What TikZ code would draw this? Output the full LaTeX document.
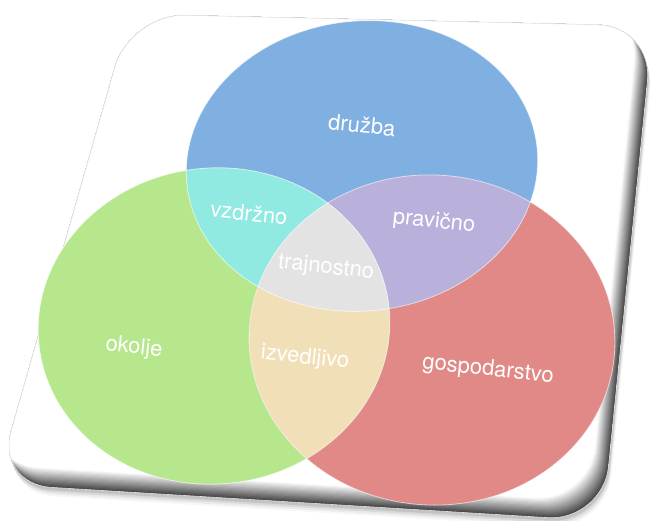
\documentclass[tikz,border=0pt]{standalone}
\usepackage{fontspec}
\setmainfont{TeX Gyre Heros}

\definecolor{druzbablue}{RGB}{128,176,225}
\definecolor{okoljegreen}{RGB}{182,231,140}
\definecolor{gospred}{RGB}{224,137,134}
\definecolor{vzdrcyan}{RGB}{145,234,226}
\definecolor{pravpurple}{RGB}{185,176,220}
\definecolor{izvbeige}{RGB}{241,224,183}
\definecolor{trajgrey}{RGB}{227,227,227}

% the three sets
\newcommand{\druzbaset}{(362,166) ellipse [x radius=176, y radius=145, rotate=6]}
\newcommand{\okoljeset}{(214,326) ellipse [x radius=176, y radius=158, rotate=6]}
\newcommand{\gospset}{(432,340) ellipse [x radius=183, y radius=165, rotate=-4]}
% the tilted card
\newcommand{\cardpath}{(130,14) -- (653,26) -- (603,521) -- (-4,484) -- cycle}

\tikzset{
  setlabel/.style={text=white, font=\fontsize{22}{24}\selectfont, rotate=-6, inner sep=1pt},
  rim/.style={draw=white, draw opacity=0.6, line width=0.8pt},
  card/.style={rounded corners=55pt}
}

\begin{document}
\begin{tikzpicture}[x=1pt,y=-1pt]
\useasboundingbox (0,0) rectangle (652,521);

% soft shadow under the card
\foreach \d/\o in {9/0.03,7/0.05,5/0.07,3/0.1} {
  \fill[black, opacity=\o, card, shift={(\d*0.3,\d)}] \cardpath;
}
% bevel of the card
\begin{scope}
  \clip[card] \cardpath;
  \fill[black!72] \cardpath;
  \foreach \k in {1,...,16} {
    \pgfmathsetmacro{\shade}{max(0,72-4.4*\k)}
    \fill[black!\shade, card, shift={(-0.8*\k,-1.2*\k)}] \cardpath;
  }
  \fill[white, card, shift={(-14,-20)}] \cardpath;
\end{scope}
\draw[black!12, line width=0.6pt, card] \cardpath;

% sets
\fill[druzbablue] \druzbaset;
\fill[okoljegreen] \okoljeset;
\fill[gospred] \gospset;

% overlaps
\begin{scope}
  \clip \druzbaset;
  \fill[vzdrcyan] \okoljeset;
  \fill[pravpurple] \gospset;
\end{scope}
\begin{scope}
  \clip \okoljeset;
  \fill[izvbeige] \gospset;
  \clip \druzbaset;
  \fill[trajgrey] \gospset;
\end{scope}

% rims
\path[rim] \druzbaset;
\path[rim] \okoljeset;
\path[rim] \gospset;

% labels
\node[setlabel] (druzba) at (362,125) {družba};
\node[setlabel] (okolje) at (134,348) {okolje};
\node[setlabel] (gospodarstvo) at (488,370) {gospodarstvo};
\node[setlabel] (vzdrzno) at (249,213) {vzdržno};
\node[setlabel] (pravicno) at (434,222) {pravično};
\node[setlabel] (izvedljivo) at (305,358) {izvedljivo};
\node[setlabel] (trajnostno) at (326,268) {trajnostno};

\end{tikzpicture}
\end{document}
